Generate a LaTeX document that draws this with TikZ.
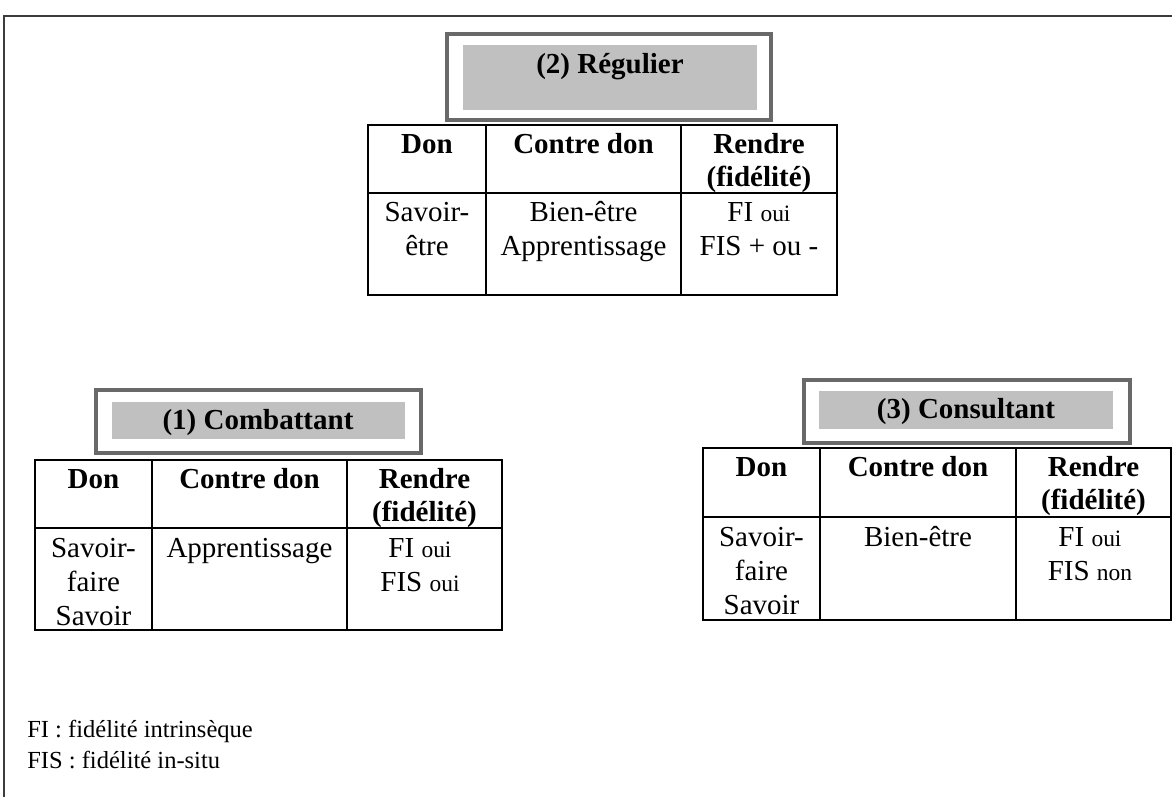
\documentclass[tikz,border=0pt]{standalone}
\usepackage{fontspec}
\setmainfont{Liberation Serif}
\definecolor{boxgray}{RGB}{105,105,105}
\definecolor{fillgray}{RGB}{192,192,192}
\definecolor{framegray}{RGB}{60,60,60}
\newcommand\mainsz{\fontsize{21.75}{25.5}\selectfont}
\newcommand\smsz{\fontsize{17.6}{20}\selectfont}
\newcommand\notesz{\fontsize{18.4}{22}\selectfont}
\begin{document}
\begin{tikzpicture}[x={(0.75pt,0)},y={(0,-0.75pt)},
  every node/.style={font=\mainsz, inner sep=0pt},
  hdr/.style={font=\mainsz\bfseries, anchor=base},
  txt/.style={anchor=base},
  note/.style={font=\notesz, anchor=base west},
  titleframe/.style={draw=boxgray, line width=3pt},
  titlefill/.style={fill=fillgray},
  tbl/.style={draw=black, line width=1pt},
  frame/.style={draw=framegray, line width=1.5pt}]
\useasboundingbox (0,0) rectangle (1172,797);
\fill[white] (0,0) rectangle (1172,797);
\draw[frame] (4,797) -- (4,16) -- (1172,16);

% ---- (2) Regulier
\draw[titleframe] (447,34) rectangle (771,120);
\fill[titlefill] (463,45) rectangle (757,110);
\node[hdr] (t2title) at (610,73) {(2) Régulier};
\draw[tbl] (368,125) rectangle (837,295);
\draw[tbl] (368,193) -- (837,193) (486,125) -- (486,295) (681,125) -- (681,295);
\node[hdr] (t2h1) at (427,153) {Don};
\node[hdr] (t2h2) at (583.5,153) {Contre don};
\node[hdr] (t2h3a) at (759,153) {Rendre};
\node[hdr] (t2h3b) at (759,186) {(fidélité)};
\node[txt] (t2a1) at (427,221) {Savoir-};
\node[txt] (t2a2) at (427,255) {être};
\node[txt] (t2b1) at (583.5,221) {Bien-être};
\node[txt] (t2b2) at (583.5,255) {Apprentissage};
\node[txt] (t2c1) at (759,221) {FI {\smsz oui}};
\node[txt] (t2c2) at (759,255) {FIS + ou -};

% ---- (1) Combattant
\draw[titleframe] (96,390) rectangle (421,453);
\fill[titlefill] (112,402) rectangle (405,439);
\node[hdr] (t1title) at (258,429) {(1) Combattant};
\draw[tbl] (35,460) rectangle (502,630);
\draw[tbl] (35,528) -- (502,528) (152,460) -- (152,630) (347,460) -- (347,630);
\node[hdr] (t1h1) at (93.5,488) {Don};
\node[hdr] (t1h2) at (249.5,488) {Contre don};
\node[hdr] (t1h3a) at (424.5,488) {Rendre};
\node[hdr] (t1h3b) at (424.5,521) {(fidélité)};
\node[txt] (t1a1) at (93.5,557) {Savoir-};
\node[txt] (t1a2) at (93.5,591) {faire};
\node[txt] (t1a3) at (93.5,625) {Savoir};
\node[txt] (t1b1) at (249.5,557) {Apprentissage};
\node[txt] (t1c1) at (420,557) {FI {\smsz oui}};
\node[txt] (t1c2) at (420,591) {FIS {\smsz oui}};

% ---- (3) Consultant
\draw[titleframe] (804,380) rectangle (1130,443);
\fill[titlefill] (819,391) rectangle (1113,429);
\node[hdr] (t3title) at (966,418) {(3) Consultant};
\draw[tbl] (703,448) rectangle (1171,620);
\draw[tbl] (703,517) -- (1171,517) (820,448) -- (820,620) (1016,448) -- (1016,620);
\node[hdr] (t3h1) at (761.5,476) {Don};
\node[hdr] (t3h2) at (918,476) {Contre don};
\node[hdr] (t3h3a) at (1093.5,476) {Rendre};
\node[hdr] (t3h3b) at (1093.5,509) {(fidélité)};
\node[txt] (t3a1) at (761.5,546) {Savoir-};
\node[txt] (t3a2) at (761.5,580) {faire};
\node[txt] (t3a3) at (761.5,614) {Savoir};
\node[txt] (t3b1) at (918,546) {Bien-être};
\node[txt] (t3c1) at (1090,546) {FI {\smsz oui}};
\node[txt] (t3c2) at (1090,580) {FIS {\smsz non}};

% ---- notes
\node[note] (n1) at (27,737) {FI : fidélité intrinsèque};
\node[note] (n2) at (27,768) {FIS : fidélité in-situ};
\end{tikzpicture}
\end{document}
